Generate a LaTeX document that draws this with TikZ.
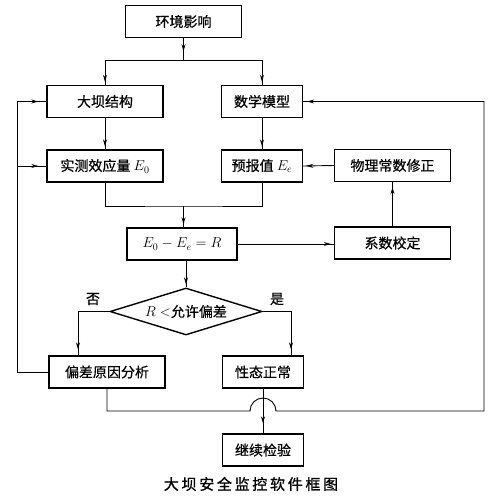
\documentclass[tikz,border=0pt]{standalone}
\usepackage{fontspec}
\newfontfamily\cjk[FakeBold=0.6]{Noto Sans CJK SC}
\newfontfamily\cjkcap[LetterSpace=18,FakeBold=1]{Noto Sans CJK SC}
\usetikzlibrary{arrows,arrows.meta,shapes,decorations.markings}

\begin{document}
\begin{tikzpicture}[x=1pt,y=-1pt,line width=0.9pt,
                    font=\cjk\fontsize{14}{16}\selectfont]
  \tikzstyle{box}=[draw,line width=1.4pt,minimum height=32pt,inner sep=0pt]
  \tikzstyle{wide}=[box,minimum width=116pt]
  \tikzstyle{slim}=[box,minimum width=81pt]
  \tikzstyle{dia}=[draw,diamond,aspect=3.2,line width=1.4pt,
                   minimum width=152pt,minimum height=47pt,inner sep=0pt]
  \tikzset{arr/.style={postaction={decorate},decoration={markings,
             mark=at position #1 with {\arrow{Stealth[length=7pt,width=4pt]}}}},
           arr/.default=-3pt}
  \useasboundingbox (0,0) rectangle (500,498);

  \node[wide] (env)   at (183.5,21.5) {环境影响};
  \node[wide] (dam)   at (105,101.5)  {大坝结构};
  \node[slim] (model) at (262,101.5)  {数学模型};
  \node[wide] (meas)  at (105,166)    {实测效应量 $E_0$};
  \node[slim] (pred)  at (262,166)    {预报值 $E_e$};
  \node[wide] (phys)  at (392.5,165.5) {物理常数修正};
  \node[box,minimum width=110pt] (diff) at (182,244) {$E_0 - E_e = R$};
  \node[wide] (coef)  at (392.5,243)  {系数校定};
  \node[dia]  (check) at (186,311.5)  {$R<$允许偏差};
  \node[wide] (cause) at (107,372)    {偏差原因分析};
  \node[slim] (ok)    at (263,372)    {性态正常};
  \node[slim] (cont)  at (263,450)    {继续检验};
  \node       (no)    at (93,299)     {否};
  \node       (yes)   at (277,299)    {是};
  \node       (cap)   at (251,484)    {\cjkcap\fontsize{15}{17}\selectfont 大坝安全监控软件框图};

  \coordinate (split)    at (183.5,60);
  \coordinate (merge)    at (183.5,206);
  \coordinate (lbend)    at (17,372);
  \coordinate (nobend)   at (78,311.5);
  \coordinate (yesbend)  at (291,311.5);
  \coordinate (hopl)     at (250,411);
  \coordinate (rbend)    at (484,411);

  % top part
  \draw[arr=0.6] (env.south) -- (split);
  \draw[arr] (split) -| (dam.north);
  \draw[arr] (split) -| (model.north);
  \draw[arr] (dam.south) -- (meas.north);
  \draw[arr] (model.south) -- (pred.north);
  \draw[arr] (phys.west) -- (pred.east);
  \draw (meas.south) |- (merge) -| (pred.south);
  \draw[arr] (merge) -- (merge |- diff.north);
  \draw[arr] (diff.east) -- (diff.east -| coef.west);
  \draw[arr=-5pt] (coef.north) -- (phys.south);
  \draw[arr] (diff.south -| check.north) -- (check.north);

  % decision
  \draw[arr=-6pt] (check.west) -- (nobend) -- (nobend |- cause.north);
  \draw[arr=-6pt] (check.east) -- (yesbend) -- (yesbend |- ok.north);
  \draw[arr=-10pt] (ok.south) -- (cont.north);

  % feedback loops
  \draw[arr=-8pt] (cause.west) -- (lbend) |- (dam.west);
  \draw[arr=-8pt] (lbend |- meas.west) -- (meas.west);
  \draw[arr=-4pt] (cause.south) |- (hopl)
        arc[start angle=180,end angle=0,radius=13pt] -- (rbend) |- (model.east);
\end{tikzpicture}
\end{document}
